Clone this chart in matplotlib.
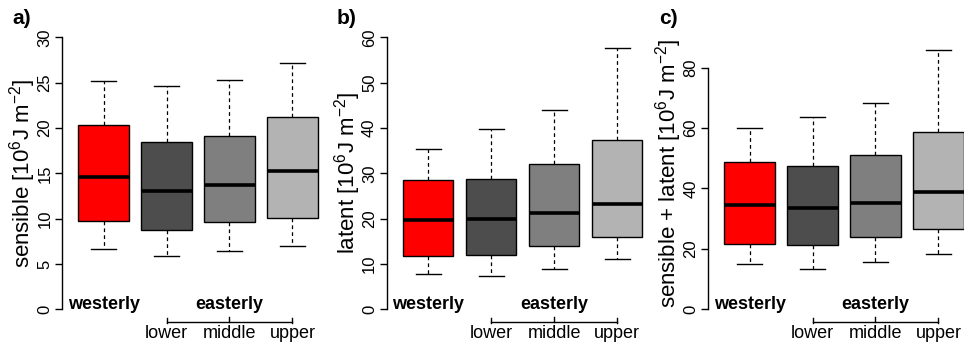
import matplotlib
matplotlib.use("Agg")
import matplotlib.pyplot as plt
import matplotlib.transforms as mtransforms

plt.rcParams['font.family'] = ['Liberation Sans', 'DejaVu Sans']
plt.rcParams['mathtext.fontset'] = 'custom'
plt.rcParams['mathtext.rm'] = 'Liberation Sans'
plt.rcParams['mathtext.it'] = 'Liberation Sans:italic'
plt.rcParams['mathtext.default'] = 'regular'

groups = ["westerly", "lower", "middle", "upper"]
colors = ["#FF0000", "#4D4D4D", "#7F7F7F", "#B3B3B3"]

sens_lo = [6.7, 5.9, 6.4, 7.0]
sens_q1 = [9.7, 8.8, 9.6, 10.1]
sens_med = [14.6, 13.1, 13.7, 15.3]
sens_q3 = [20.3, 18.5, 19.1, 21.2]
sens_hi = [25.2, 24.6, 25.3, 27.2]

lat_lo = [7.9, 7.4, 9.0, 11.2]
lat_q1 = [11.7, 11.9, 14.0, 16.0]
lat_med = [19.8, 19.9, 21.3, 23.2]
lat_q3 = [28.5, 28.8, 32.1, 37.4]
lat_hi = [35.4, 39.7, 44.0, 57.7]

tot_lo = [14.9, 13.4, 15.6, 18.3]
tot_q1 = [21.5, 21.2, 23.9, 26.6]
tot_med = [34.6, 33.6, 35.1, 38.8]
tot_q3 = [48.6, 47.4, 51.2, 58.5]
tot_hi = [60.0, 63.5, 68.4, 85.7]

panels = [
    ("a)", "sensible [10$^6$J m$^{-2}$]", (sens_lo, sens_q1, sens_med, sens_q3, sens_hi), 30, [0, 5, 10, 15, 20, 25, 30]),
    ("b)", "latent [10$^6$J m$^{-2}$]", (lat_lo, lat_q1, lat_med, lat_q3, lat_hi), 60, [0, 10, 20, 30, 40, 50, 60]),
    ("c)", "sensible + latent [10$^6$J m$^{-2}$]", (tot_lo, tot_q1, tot_med, tot_q3, tot_hi), 90, [0, 20, 40, 60, 80]),
]

W, H = 964, 347
fig = plt.figure(figsize=(W / 100, H / 100), dpi=100)
lefts = [62, 386.7, 708]
top_px, bot_px = 26.4, 320.2
width_px = 272

for (lab, ylab, (lo, q1, med, q3, hi), ymax, ticks), lp in zip(panels, lefts):
    ax = fig.add_axes([lp / W, 1 - bot_px / H, width_px / W, (bot_px - top_px) / H])
    stats = []
    for i in range(4):
        stats.append(dict(med=med[i], q1=q1[i], q3=q3[i], whislo=lo[i], whishi=hi[i], fliers=[]))
    bp = ax.bxp(stats, positions=[1, 2, 3, 4], widths=0.8, capwidths=0.4,
                patch_artist=True, showfliers=False,
                boxprops=dict(edgecolor='black', linewidth=1.0),
                medianprops=dict(color='black', linewidth=2.6, solid_capstyle='butt'),
                whiskerprops=dict(color='black', linewidth=0.9, linestyle=(0, (3, 2.5))),
                capprops=dict(color='black', linewidth=1.0))
    for patch, c in zip(bp['boxes'], colors):
        patch.set_facecolor(c)
    ext = 0.04 * ymax
    ax.set_ylim(-ext, ymax + ext)
    ax.set_xlim(0.5 - 0.16, 4.5 + 0.16)
    for s in ['top', 'right', 'bottom']:
        ax.spines[s].set_visible(False)
    ax.spines['left'].set_bounds(0, ticks[-1])
    ax.spines['left'].set_linewidth(1.0)
    ax.set_xticks([])
    ax.set_yticks(ticks)
    ax.set_yticklabels([str(t) for t in ticks], rotation=90, va='center', fontsize=12)
    ax.tick_params(axis='y', direction='out', length=5, width=1, pad=2)
    ax.set_ylabel(ylab, fontsize=16, va='center')
    ax.yaxis.set_label_coords(-39 / width_px, 0.5)
    trans = mtransforms.blended_transform_factory(ax.transData, ax.transAxes)
    ax.text(1, 0.052, "westerly", transform=trans, ha='center', va='center',
            fontsize=13, fontweight='bold')
    ax.text(3, 0.052, "easterly", transform=trans, ha='center', va='center',
            fontsize=13, fontweight='bold')
    yb = -0.005
    ax.plot([2, 4], [yb, yb], transform=trans, color='black', lw=1, clip_on=False)
    for xp in [2, 4]:
        ax.plot([xp, xp], [yb + 0.012, yb - 0.006], transform=trans, color='black', lw=1, clip_on=False)
    ax.plot([3, 3], [yb, yb + 0.015], transform=trans, color='black', lw=1, clip_on=False)
    for xp, name in zip([2, 3, 4], groups[1:]):
        ax.text(xp, -0.045, name, transform=trans, ha='center', va='center', fontsize=13)
    fig.text((lp - 40) / W, 1 - 19 / H, lab, fontsize=15, fontweight='bold', ha='center', va='center')

fig.savefig("out.png", dpi=100)
